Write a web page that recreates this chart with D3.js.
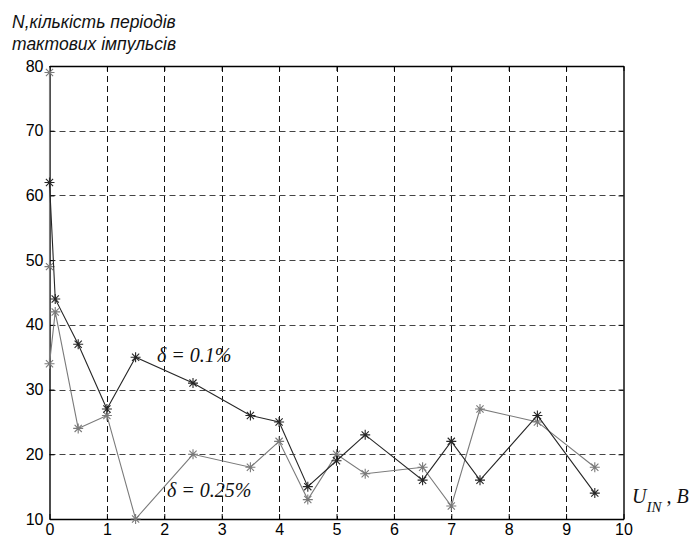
<!DOCTYPE html>
<html lang="uk">
<head>
<meta charset="UTF-8">
<title>N від U_IN</title>
<style>
  body { margin: 0; background: #fff; }
  .grid line { fill: none; stroke-dasharray: 6,4; }
  .series { fill: none; stroke-width: 1.1px; }
  .title { font: italic 17.5px "Liberation Sans", Arial, sans-serif; fill: #111; }
  .note { font: italic 20px "Liberation Serif", "Times New Roman", serif; fill: #111; }
</style>
<script src="https://d3js.org/d3.v7.min.js"></script>
</head>
<body>
<div id="chart"></div>
<script>
// U_IN, B (x) and N (y) for the two error levels
const xFine = [0, 0.1, 0.5, 1, 1.5, 2.5, 3.5, 4, 4.5, 5, 5.5, 6.5, 7, 7.5, 8.5, 9.5];
const nFine = [62, 44, 37, 27, 35, 31, 26, 25, 15, 19, 23, 16, 22, 16, 26, 14];

const xCoarse = [0, 0, 0, 0.1, 0.5, 1, 1.5, 2.5, 3.5, 4, 4.5, 5, 5.5, 6.5, 7, 7.5, 8.5, 9.5];
const nCoarse = [79, 49, 34, 42, 24, 26, 10, 20, 18, 22, 13, 20, 17, 18, 12, 27, 25, 18];

const xTicks = [0, 1, 2, 3, 4, 5, 6, 7, 8, 9, 10];
const yTicks = [10, 20, 30, 40, 50, 60, 70, 80];

const width = 697, height = 538;
const margin = { top: 66, right: 73.5, bottom: 19, left: 49.5 };

const svg = d3.select("#chart").append("svg")
    .attr("width", width)
    .attr("height", height);

const x = d3.scaleLinear().domain([0, 10]).range([margin.left, width - margin.right]);
const y = d3.scaleLinear().domain([10, 80]).range([height - margin.bottom, margin.top]);

// dashed grid
svg.append("g").attr("class", "grid")
  .selectAll("line")
  .data(xTicks.slice(1, -1))
  .join("line")
    .attr("x1", d => Math.round(x(d)) + 0.5).attr("x2", d => Math.round(x(d)) + 0.5)
    .attr("y1", y(80)).attr("y2", y(10))
    .attr("stroke", "#111");

svg.append("g").attr("class", "grid")
  .selectAll("line")
  .data(yTicks.slice(1, -1))
  .join("line")
    .attr("x1", x(0)).attr("x2", x(10))
    .attr("y1", d => Math.round(y(d)) + 0.5).attr("y2", d => Math.round(y(d)) + 0.5)
    .attr("stroke", "#444");

// axes, MATLAB style: ticks inside, box around
svg.append("g")
    .attr("transform", `translate(0,${y(10)})`)
    .call(d3.axisBottom(x).tickValues(xTicks).tickFormat(d3.format("d"))
      .tickSizeInner(-5).tickSizeOuter(0).tickPadding(5));

svg.append("g")
    .attr("transform", `translate(${x(0)},0)`)
    .call(d3.axisLeft(y).tickValues(yTicks).tickFormat(d3.format("d"))
      .tickSizeInner(-5).tickSizeOuter(0).tickPadding(6));

svg.append("g")
    .attr("transform", `translate(0,${y(80)})`)
    .call(d3.axisTop(x).tickValues(xTicks).tickFormat("").tickSizeInner(-5).tickSizeOuter(0));

svg.append("g")
    .attr("transform", `translate(${x(10)},0)`)
    .call(d3.axisRight(y).tickValues(yTicks).tickFormat("").tickSizeInner(-5).tickSizeOuter(0));

svg.selectAll(".domain").attr("stroke", "#000").attr("stroke-width", 1.4);
svg.selectAll(".tick line").attr("stroke", "#000");
svg.selectAll(".tick text")
    .attr("font-family", "'Liberation Sans', Arial, sans-serif")
    .attr("font-size", 16)
    .attr("fill", "#000");

// series
const asterisk = (px, py, r) => {
  const d = r * 0.72;
  return `M${px - r},${py}H${px + r}M${px},${py - r}V${py + r}` +
         `M${px - d},${py - d}L${px + d},${py + d}M${px - d},${py + d}L${px + d},${py - d}`;
};

function drawSeries(xs, ys, color) {
  const pts = xs.map((v, i) => [v, ys[i]]);
  svg.append("path")
      .datum(pts)
      .attr("class", "series")
      .attr("stroke", color)
      .attr("d", d3.line().x(d => x(d[0])).y(d => y(d[1])));
  svg.append("g")
    .selectAll("path")
    .data(pts)
    .join("path")
      .attr("d", d => asterisk(x(d[0]), y(d[1]), 5))
      .attr("stroke", color)
      .attr("stroke-width", 1.1)
      .attr("fill", "none");
}

drawSeries(xCoarse, nCoarse, "#7a7a7a");
drawSeries(xFine, nFine, "#262626");

// labels
svg.append("text").attr("class", "title").attr("x", 12).attr("y", 28)
    .text("N,кількість періодів");
svg.append("text").attr("class", "title").attr("x", 12).attr("y", 50)
    .text("тактових імпульсів");

svg.append("text").attr("class", "note").attr("x", 157).attr("y", 362)
    .text("δ = 0.1%");
svg.append("text").attr("class", "note").attr("x", 167).attr("y", 497)
    .text("δ = 0.25%");

const ux = svg.append("text").attr("class", "note").attr("x", 632).attr("y", 503);
ux.append("tspan").text("U");
ux.append("tspan").attr("dy", 9).attr("font-size", 15).text("IN");
ux.append("tspan").attr("dy", -9).text(" , B");
</script>
</body>
</html>
